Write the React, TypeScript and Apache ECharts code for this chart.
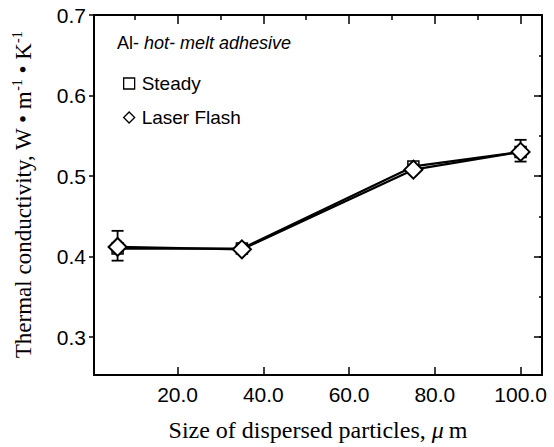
import React, { useEffect, useRef } from "react";
import * as echarts from "echarts";

const particleSizes = [6, 35, 75, 100];
const steadyValues = [0.41, 0.41, 0.512, 0.53];
const laserFlashValues = [0.412, 0.409, 0.508, 0.53];
const errorLow = [0.395, null, null, 0.518];
const errorHigh = [0.432, null, null, 0.545];
const yTickLabels = [0.3, 0.4, 0.5, 0.6, 0.7];
const xTickLabels = [20, 40, 60, 80, 100];
const xMinorTicks = [10, 30, 50, 70, 90];
const yRightShort = [0.3, 0.35, 0.4, 0.45, 0.5, 0.55, 0.6, 0.65];

export default function App() {
  const ref = useRef<HTMLDivElement>(null);
  useEffect(() => {
    if (!ref.current) return;
    const chart = echarts.init(ref.current, null, { renderer: "svg" });
    const X_MIN = 0.5;
    const X_MAX = 105;
    const Y_MIN = 0.253;
    const Y_MAX = 0.7;
    const sans = "Liberation Sans";
    const serif = "Liberation Serif";
    const errData = particleSizes
      .map((x, i) => [x, errorLow[i], errorHigh[i]])
      .filter((d) => d[1] != null);
    const hiddenAxisBase = {
      type: "value",
      min: X_MIN,
      max: X_MAX,
      axisLine: { show: false },
      axisLabel: { show: false },
      splitLine: { show: false },
    };
    const option: any = {
      animation: false,
      backgroundColor: "#fff",
      grid: { left: 94, right: 12, top: 15, bottom: 71, show: false },
      legend: {
        orient: "vertical",
        left: 118,
        top: 69,
        itemGap: 15,
        itemWidth: 11,
        itemHeight: 11,
        textStyle: { fontFamily: sans, fontSize: 19, color: "#000", padding: [0, 0, 0, 2] },
        itemStyle: { color: "#fff", borderColor: "#000", borderWidth: 1.3 },
        data: [
          { name: "Steady", icon: "path://M1,1 L9,1 L9,9 L1,9 Z" },
          { name: "Laser Flash", icon: "diamond" },
        ],
        selectedMode: false,
      },
      graphic: [
        {
          type: "text",
          left: 117,
          top: 34,
          style: {
            text: "{a|Al- }{b|hot- melt adhesive}",
            rich: {
              a: { fontFamily: sans, fontSize: 18, fill: "#000" },
              b: { fontFamily: sans, fontSize: 18, fontStyle: "italic", fill: "#000" },
            },
          },
        },
      ],
      xAxis: [
        {
          type: "value",
          min: X_MIN,
          max: X_MAX,
          position: "bottom",
          name: "Size of dispersed particles, {mu|μ}m",
          nameLocation: "middle",
          nameGap: 43,
          nameTextStyle: {
            fontFamily: serif,
            fontSize: 24,
            color: "#000",
            rich: { mu: { fontFamily: serif, fontSize: 24, fontStyle: "italic", color: "#000", padding: [0, 5, 0, 0] } },
          },
          axisLine: { show: true, onZero: false, lineStyle: { color: "#000", width: 2 } },
          axisTick: { show: true, inside: true, length: 8, lineStyle: { color: "#000", width: 1.5 }, customValues: xTickLabels },
          axisLabel: {
            show: true,
            customValues: xTickLabels,
            formatter: (v: number) => v.toFixed(1),
            fontFamily: sans,
            fontSize: 21,
            color: "#000",
            margin: 9,
          },
          splitLine: { show: false },
        },
        {
          ...hiddenAxisBase,
          position: "top",
          axisLine: { show: true, onZero: false, lineStyle: { color: "#000", width: 2 } },
          axisTick: { show: true, inside: true, length: 9, lineStyle: { color: "#000", width: 1.5 }, customValues: xTickLabels },
        },
        {
          ...hiddenAxisBase,
          position: "top",
          axisTick: { show: true, inside: true, length: 5, lineStyle: { color: "#000", width: 1.5 }, customValues: xMinorTicks },
        },
      ],
      yAxis: [
        {
          type: "value",
          min: Y_MIN,
          max: Y_MAX,
          position: "left",
          name: "Thermal conductivity, W • m{sup|-1} • K{sup|-1}",
          nameLocation: "middle",
          nameRotate: 90,
          nameGap: 58,
          nameTextStyle: {
            fontFamily: serif,
            fontSize: 23,
            color: "#000",
            rich: {
              sup: { fontFamily: serif, fontSize: 14, color: "#000", verticalAlign: "top", lineHeight: 26 },
            },
          },
          axisLine: { show: true, onZero: false, lineStyle: { color: "#000", width: 2 } },
          axisTick: { show: true, inside: false, length: 5, lineStyle: { color: "#000", width: 1.5 }, customValues: yTickLabels },
          axisLabel: {
            show: true,
            customValues: yTickLabels,
            formatter: (v: number) => v.toFixed(1),
            fontFamily: sans,
            fontSize: 21,
            color: "#000",
            margin: 8,
          },
          splitLine: { show: false },
        },
        {
          type: "value",
          min: Y_MIN,
          max: Y_MAX,
          position: "right",
          axisLine: { show: true, onZero: false, lineStyle: { color: "#000", width: 2 } },
          axisTick: { show: true, inside: true, length: 8, lineStyle: { color: "#000", width: 1.5 }, customValues: yTickLabels },
          axisLabel: { show: false },
          splitLine: { show: false },
        },
        {
          type: "value",
          min: Y_MIN,
          max: Y_MAX,
          position: "right",
          axisLine: { show: false },
          axisTick: { show: true, inside: true, length: 3, lineStyle: { color: "#000", width: 1.5 }, customValues: yRightShort },
          axisLabel: { show: false },
          splitLine: { show: false },
        },
      ],
      series: [
        {
          name: "error",
          type: "custom",
          xAxisIndex: 0,
          yAxisIndex: 0,
          data: errData,
          z: 1,
          renderItem: (params: any, api: any) => {
            const x = api.value(0);
            const lo = api.coord([x, api.value(1)]);
            const hi = api.coord([x, api.value(2)]);
            const hw = 6;
            const style = { stroke: "#000", lineWidth: 1.8 };
            return {
              type: "group",
              children: [
                { type: "line", shape: { x1: lo[0], y1: lo[1], x2: hi[0], y2: hi[1] }, style },
                { type: "line", shape: { x1: lo[0] - hw, y1: lo[1], x2: lo[0] + hw, y2: lo[1] }, style },
                { type: "line", shape: { x1: hi[0] - hw, y1: hi[1], x2: hi[0] + hw, y2: hi[1] }, style },
              ],
            };
          },
        },
        {
          name: "Steady",
          type: "line",
          xAxisIndex: 0,
          yAxisIndex: 0,
          z: 2,
          data: particleSizes.map((x, i) => [x, steadyValues[i]]),
          symbol: "rect",
          symbolSize: 11,
          showAllSymbol: true,
          itemStyle: { color: "#fff", borderColor: "#000", borderWidth: 1.5 },
          lineStyle: { color: "#000", width: 2.2 },
        },
        {
          name: "Laser Flash",
          type: "line",
          xAxisIndex: 0,
          yAxisIndex: 0,
          z: 3,
          data: particleSizes.map((x, i) => [x, laserFlashValues[i]]),
          symbol: "diamond",
          symbolSize: [18, 18],
          showAllSymbol: true,
          itemStyle: { color: "#fff", borderColor: "#000", borderWidth: 2 },
          lineStyle: { color: "#000", width: 2.2 },
        },
      ],
    };
    chart.setOption(option);
    return () => chart.dispose();
  }, []);
  return <div ref={ref} style={{ width: 554, height: 447, position: "absolute", left: 0, top: 0 }} />;
}
